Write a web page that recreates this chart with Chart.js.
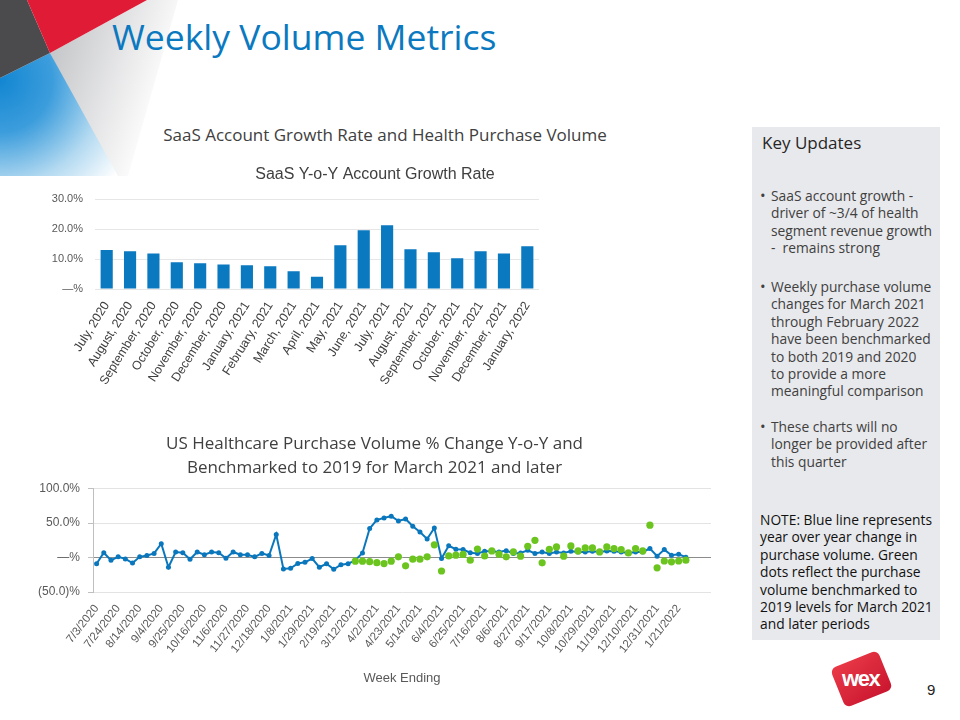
<!DOCTYPE html>
<html>
<head>
<meta charset="utf-8">
<title>Weekly Volume Metrics</title>
<script src="https://cdn.jsdelivr.net/npm/chart.js@4.4.1/dist/chart.umd.min.js"></script>
<style>
  html, body { margin: 0; padding: 0; background: #fff; }
  #slide { position: relative; width: 960px; height: 720px; overflow: hidden; font-family: "Open Sans", "Noto Sans", sans-serif; }
  .abs { position: absolute; }
  #corner { left: 0; top: 0; }
  #heading { left: 112px; top: 12px; font-size: 35.5px; color: #0b79bf; white-space: nowrap; }
  #subheading { left: 135px; width: 500px; top: 123px; text-align: center; font-size: 17px; color: #404040; white-space: nowrap; }
  #bar-wrap { left: 40px; top: 155px; width: 670px; height: 250px; }
  #line-wrap { left: 20px; top: 425px; width: 709px; height: 265px; }
  #panel { left: 752px; top: 127px; width: 188px; height: 513px; background: #e8e9ec; }
  #panel .key { position: absolute; left: 10px; top: 4px; font-size: 17px; color: #262626; white-space: nowrap; }
  #panel .bullet { position: absolute; left: 19px; font-size: 13.8px; line-height: 17.4px; color: #404040; white-space: nowrap; }
  #panel .bullet:before { content: "\2022"; position: absolute; left: -11px; top: 0; font-size: 15px; line-height: 17.4px; }
  #panel .note { position: absolute; left: 8px; top: 384px; font-size: 13.8px; line-height: 17.4px; color: #111; white-space: nowrap; }
  #logo { left: 836px; top: 658px; width: 51px; height: 42px; border-radius: 6px; background: linear-gradient(160deg, #ea3a47, #c9152f); transform: rotate(-22deg); }
  #logo span { position: absolute; left: 6px; top: 8px; transform: rotate(22deg); color: #fff; font-family: "Liberation Sans", sans-serif; font-weight: bold; font-size: 22px; letter-spacing: -1.5px; }
  #page { left: 927px; top: 681px; font-size: 15px; color: #222; font-family: "Liberation Sans", sans-serif; }
</style>
</head>
<body>
<div id="slide">

  <svg id="corner" class="abs" width="220" height="190">
    <defs>
      <radialGradient id="blueFade" cx="0" cy="80" r="150" gradientUnits="userSpaceOnUse">
        <stop offset="0" stop-color="#1286d2"/>
        <stop offset="0.35" stop-color="#3c9ddc"/>
        <stop offset="0.7" stop-color="#b4daf1"/>
        <stop offset="1" stop-color="#ffffff"/>
      </radialGradient>
      <linearGradient id="grayFade" x1="50" y1="40" x2="170" y2="80" gradientUnits="userSpaceOnUse">
        <stop offset="0" stop-color="#c3c4c7"/>
        <stop offset="1" stop-color="#ffffff"/>
      </linearGradient>
    </defs>
    <polygon points="50,53 147,0 178,0 128,176 112,176" fill="url(#grayFade)"/>
    <polygon points="0,78 50,53 118,176 0,176" fill="url(#blueFade)"/>
    <polygon points="0,0 27,0 50,53 0,78" fill="#4b4b4d"/>
    <polygon points="27,0 147,0 50,53" fill="#e01b36"/>
  </svg>

  <div id="heading" class="abs">Weekly Volume Metrics</div>
  <div id="subheading" class="abs">SaaS Account Growth Rate and Health Purchase Volume</div>

  <div id="bar-wrap" class="abs"><canvas id="bar-canvas" width="670" height="250"></canvas></div>
  <div id="line-wrap" class="abs"><canvas id="line-canvas" width="709" height="265"></canvas></div>

  <div id="panel" class="abs">
    <div class="key">Key Updates</div>
    <div class="bullet" style="top:60px">SaaS account growth -<br>driver of ~3/4 of health<br>segment revenue growth<br>-&nbsp;&nbsp;remains strong</div>
    <div class="bullet" style="top:151px">Weekly purchase volume<br>changes for March 2021<br>through February 2022<br>have been benchmarked<br>to both 2019 and 2020<br>to provide a more<br>meaningful comparison</div>
    <div class="bullet" style="top:291px">These charts will no<br>longer be provided after<br>this quarter</div>
    <div class="note">NOTE: Blue line represents<br>year over year change in<br>purchase volume. Green<br>dots reflect the purchase<br>volume benchmarked to<br>2019 levels for March 2021<br>and later periods</div>
  </div>

  <div id="logo" class="abs"><span>wex</span></div>
  <div id="page" class="abs">9</div>
</div>

<script>
// monthly SaaS account growth (bar chart)
var months = ["July, 2020", "August, 2020", "September, 2020", "October, 2020", "November, 2020",
    "December, 2020", "January, 2021", "February, 2021", "March, 2021", "April, 2021", "May, 2021",
    "June, 2021", "July, 2021", "August, 2021", "September, 2021", "October, 2021", "November, 2021",
    "December, 2021", "January, 2022"];
var growthRate = [13.0, 12.6, 11.9, 8.9, 8.6, 8.2, 7.9, 7.6, 5.9, 4.1, 14.6, 19.6, 21.3, 13.3, 12.3, 10.3, 12.6, 11.9, 14.3];
var growthTicks = [0, 10, 20, 30];

// weekly health purchase volume (line chart)
var weeks = ["7/3/2020", "7/10/2020", "7/17/2020", "7/24/2020", "7/31/2020", "8/7/2020", "8/14/2020",
    "8/21/2020", "8/28/2020", "9/4/2020", "9/11/2020", "9/18/2020", "9/25/2020", "10/2/2020", "10/9/2020",
    "10/16/2020", "10/23/2020", "10/30/2020", "11/6/2020", "11/13/2020", "11/20/2020", "11/27/2020",
    "12/4/2020", "12/11/2020", "12/18/2020", "12/25/2020", "1/1/2021", "1/8/2021", "1/15/2021",
    "1/22/2021", "1/29/2021", "2/5/2021", "2/12/2021", "2/19/2021", "2/26/2021", "3/5/2021", "3/12/2021",
    "3/19/2021", "3/26/2021", "4/2/2021", "4/9/2021", "4/16/2021", "4/23/2021", "4/30/2021", "5/7/2021",
    "5/14/2021", "5/21/2021", "5/28/2021", "6/4/2021", "6/11/2021", "6/18/2021", "6/25/2021", "7/2/2021",
    "7/9/2021", "7/16/2021", "7/23/2021", "7/30/2021", "8/6/2021", "8/13/2021", "8/20/2021", "8/27/2021",
    "9/3/2021", "9/10/2021", "9/17/2021", "9/24/2021", "10/1/2021", "10/8/2021", "10/15/2021",
    "10/22/2021", "10/29/2021", "11/5/2021", "11/12/2021", "11/19/2021", "11/26/2021", "12/3/2021",
    "12/10/2021", "12/17/2021", "12/24/2021", "12/31/2021", "1/7/2022", "1/14/2022", "1/21/2022",
    "1/28/2022", "2/4/2022", "2/11/2022", "2/18/2022"];
var yoyChange = [-9, 7, -4, 1, -2, -8, 1, 3, 6, 20, -14, 8, 7, -2.5, 8, 4, 8, 7, -1, 8, 4, 4, 1, 6, 3,
    33.5, -16.5, -15.5, -8.7, -7, -1.5, -14, -9, -17, -10.5, -9, -4, 6.7, 42, 54.5, 57.5, 60, 53, 56,
    45.5, 37, 27, 43, -1.5, 17, 12, 11.5, 7, 5.8, 9, 9, 8, 10, 5.8, 6.7, 10.5, 5.8, 8, 5.8, 8, 6.7, 9,
    8, 8, 9, 8, 9.6, 9, 8, 6.7, 8, 8, 13, 2, 11.5, 3.4, 4.8, 0.5];
var vs2019 = [null, null, null, null, null, null, null, null, null, null, null, null, null, null, null,
    null, null, null, null, null, null, null, null, null, null, null, null, null, null, null, null, null,
    null, null, null, null, -5.3, -5.3, -6, -7.5, -8.7, -5.3, 1, -12, -2.4, -2.4, 1, 18.5, -19.5, 2.4,
    3.4, 4.5, -3.8, 12.2, 2.2, 9.6, 4.8, 1, 8.2, 2, 16.3, 25, -7.7, 12, 15.4, 2, 16.8, 9.6, 14, 14, 8.2,
    15.4, 13, 11.5, 6.7, 13, 9.6, 47, -14.9, -5, -6.2, -5, -3.8];
var volumeTicks = [-50, 0, 50, 100];

//percent label like the slide: 0 shows as a dash, negatives in brackets
function pctLabel(v) {
    if (v === 0) return "\u2014%";
    if (v < 0) return "(" + Math.abs(v).toFixed(1) + ")%";
    return v.toFixed(1) + "%";
}

//empty axis on the right, only used to keep space so the title centres like the slide
function spacerAxis(w) {
    return {
        position: "right",
        display: true,
        grid: { display: false },
        border: { display: false },
        ticks: { display: false },
        afterFit: function (s) { s.width = w; }
    };
}

//bar chart
var barChart = new Chart(document.getElementById("bar-canvas"), {
    type: "bar",
    data: {
        labels: months,
        datasets: [{
            label: "SaaS Y-o-Y Account Growth Rate",
            data: growthRate,
            backgroundColor: "#0a79bf",
            barPercentage: 0.52,
            categoryPercentage: 1
        }]
    },
    options: {
        responsive: false,
        animation: false,
        plugins: {
            legend: { display: false },
            tooltip: { enabled: false },
            title: {
                display: true,
                text: "SaaS Y-o-Y Account Growth Rate",
                color: "#404040",
                font: { family: "Liberation Sans", size: 16, weight: "normal" },
                padding: { top: 10, bottom: 15 }
            }
        },
        scales: {
            x: {
                grid: { display: false },
                border: { display: false },
                ticks: { autoSkip: false, minRotation: 58, maxRotation: 58, color: "#404040", font: { family: "Liberation Sans", size: 12.5 }, padding: 2 },
                afterFit: function (s) { s.height = 116; }
            },
            y: {
                min: growthTicks[0],
                max: growthTicks[growthTicks.length - 1],
                grid: { color: "#e6e6e6", drawTicks: false },
                border: { display: false },
                ticks: { stepSize: 10, color: "#595959", font: { family: "Liberation Sans", size: 11 }, padding: 12, callback: pctLabel },
                afterFit: function (s) { s.width = 55; }
            },
            pad: spacerAxis(171)
        }
    }
});

//line chart with the 2019 benchmark dots on top
var lineChart = new Chart(document.getElementById("line-canvas"), {
    type: "line",
    data: {
        labels: weeks,
        datasets: [
            {
                label: "Benchmarked to 2019",
                data: vs2019,
                showLine: false,
                pointRadius: 3.6,
                pointBorderWidth: 0,
                backgroundColor: "#6cc51f",
                borderColor: "#6cc51f",
                order: 0
            },
            {
                label: "Y-o-Y change",
                data: yoyChange,
                borderColor: "#0a77bd",
                backgroundColor: "#0a77bd",
                borderWidth: 2,
                pointRadius: 2.5,
                pointBorderWidth: 0,
                tension: 0,
                order: 1
            }
        ]
    },
    options: {
        responsive: false,
        animation: false,
        plugins: {
            legend: { display: false },
            tooltip: { enabled: false },
            title: {
                display: true,
                text: ["US Healthcare Purchase Volume % Change Y-o-Y and", "Benchmarked to 2019 for March 2021 and later"],
                color: "#404040",
                font: { family: "Open Sans", size: 17, weight: "normal", lineHeight: 1.4 },
                padding: { top: 7, bottom: 9 }
            }
        },
        scales: {
            x: {
                offset: true,
                grid: { display: false },
                border: { display: false },
                ticks: {
                    autoSkip: false, minRotation: 52, maxRotation: 52, color: "#595959",
                    font: { family: "Liberation Sans", size: 11.5 }, padding: 2,
                    callback: function (value, index) {
                        if (index % 3 !== 0 || yoyChange[index] == null) return "";
                        return this.getLabelForValue(value);
                    }
                },
                title: { display: true, text: "Week Ending", color: "#595959", font: { family: "Liberation Sans", size: 13 }, padding: { top: 0, bottom: 4 } },
                afterFit: function (s) { s.height = 98; }
            },
            y: {
                min: volumeTicks[0],
                max: volumeTicks[volumeTicks.length - 1],
                grid: {
                    color: function (c) { return c.tick && c.tick.value === 0 ? "#8c8c8c" : "#e3e3e3"; },
                    tickColor: "#bfbfbf",
                    tickLength: 5
                },
                border: { display: true, color: "#bfbfbf" },
                ticks: { stepSize: 50, color: "#595959", font: { family: "Liberation Sans", size: 12 }, padding: 8, callback: pctLabel },
                afterFit: function (s) { s.width = 73; }
            },
            pad: spacerAxis(18)
        }
    }
});
</script>
</body>
</html>
